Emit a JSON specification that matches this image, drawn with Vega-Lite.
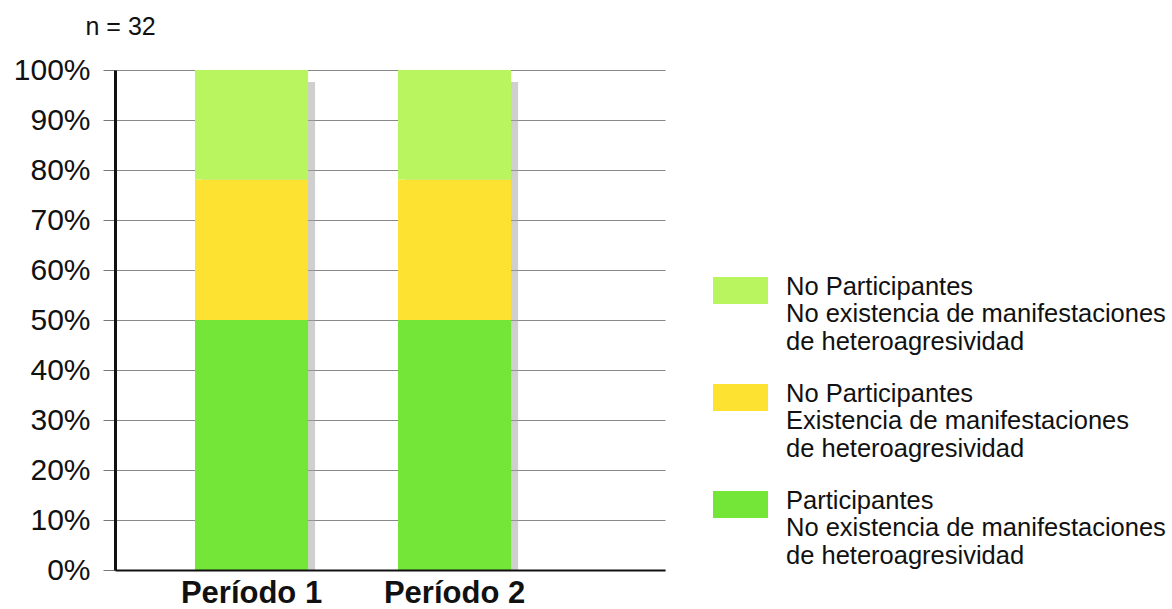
{
  "$schema": "https://vega.github.io/schema/vega-lite/v6.json",
  "autosize": "none",
  "width": 550,
  "height": 500,
  "padding": {"left": 115, "top": 70, "right": 507, "bottom": 39},
  "background": "white",
  "config": {
    "font": "Liberation Sans",
    "view": {"stroke": null},
    "axisY": {
      "titleAngle": 0,
      "titleAlign": "left",
      "titleBaseline": "middle",
      "titleX": -30,
      "titleY": -44,
      "titleFont": "Liberation Sans",
      "titleFontSize": 25,
      "titleFontWeight": "normal",
      "titleColor": "#111111",
      "labelFont": "Liberation Sans",
      "labelFontSize": 30,
      "labelColor": "#111111",
      "labelPadding": 13,
      "tickSize": 12,
      "tickColor": "#777777",
      "tickWidth": 1,
      "grid": true,
      "gridColor": "#888888",
      "gridWidth": 1,
      "domainColor": "#111111",
      "domainWidth": 3
    }
  },
  "data": {
    "values": [
      {"periodo": "Período 1", "grupo": "Participantes|No existencia de manifestaciones|de heteroagresividad", "orden": 1, "porcentaje": 50.0},
      {"periodo": "Período 1", "grupo": "No Participantes|Existencia de manifestaciones|de heteroagresividad", "orden": 2, "porcentaje": 28.1},
      {"periodo": "Período 1", "grupo": "No Participantes|No existencia de manifestaciones|de heteroagresividad", "orden": 3, "porcentaje": 21.9},
      {"periodo": "Período 2", "grupo": "Participantes|No existencia de manifestaciones|de heteroagresividad", "orden": 1, "porcentaje": 50.0},
      {"periodo": "Período 2", "grupo": "No Participantes|Existencia de manifestaciones|de heteroagresividad", "orden": 2, "porcentaje": 28.1},
      {"periodo": "Período 2", "grupo": "No Participantes|No existencia de manifestaciones|de heteroagresividad", "orden": 3, "porcentaje": 21.9}
    ]
  },
  "encoding": {
    "x": {
      "field": "periodo",
      "type": "nominal",
      "sort": ["Período 1", "Período 2"],
      "scale": {"paddingInner": 0.443, "paddingOuter": 0.576, "align": 0.342},
      "axis": {
        "title": null,
        "labelAngle": 0,
        "labelFont": "Liberation Sans",
        "labelFontSize": 31,
        "labelFontWeight": "bold",
        "labelColor": "#111111",
        "labelPadding": 8,
        "ticks": false,
        "domainColor": "#111111",
        "domainWidth": 2,
        "zindex": 1
      }
    }
  },
  "layer": [
    {
      "transform": [
        {"aggregate": [{"op": "sum", "field": "porcentaje", "as": "total"}], "groupby": ["periodo"]}
      ],
      "mark": {"type": "bar", "color": "#a0a0a0", "opacity": 0.5, "xOffset": 7, "yOffset": 12, "clip": true},
      "encoding": {
        "y": {
          "field": "total",
          "type": "quantitative",
          "scale": {"domain": [0, 100]},
          "axis": {"title": "n = 32", "values": [0, 10, 20, 30, 40, 50, 60, 70, 80, 90, 100], "labelExpr": "datum.value + '%'"}
        }
      }
    },
    {
      "mark": {"type": "bar"},
      "encoding": {
        "y": {
          "field": "porcentaje",
          "type": "quantitative",
          "stack": "zero",
          "scale": {"domain": [0, 100]},
          "axis": {"title": "n = 32", "values": [0, 10, 20, 30, 40, 50, 60, 70, 80, 90, 100], "labelExpr": "datum.value + '%'"}
        },
        "order": {"field": "orden", "type": "quantitative"},
        "color": {
          "field": "grupo",
          "type": "nominal",
          "scale": {
            "domain": [
              "No Participantes|No existencia de manifestaciones|de heteroagresividad",
              "No Participantes|Existencia de manifestaciones|de heteroagresividad",
              "Participantes|No existencia de manifestaciones|de heteroagresividad"
            ],
            "range": ["#b8f55e", "#fde232", "#73e638"]
          },
          "legend": {
            "title": null,
            "orient": "none",
            "legendX": 598,
            "legendY": 193,
            "labelExpr": "split(datum.label, '|')",
            "labelFont": "Liberation Sans",
            "labelFontSize": 25.5,
            "labelColor": "#111111",
            "labelLimit": 0,
            "labelBaseline": "top",
            "labelOffset": 18,
            "symbolType": "M-1,-0.49H1V0.49H-1Z",
            "symbolSize": 3025,
            "symbolStrokeWidth": 0,
            "rowPadding": 15,
            "encode": {
              "labels": {"update": {"dy": {"value": -16}}}
            }
          }
        }
      }
    }
  ]
}
